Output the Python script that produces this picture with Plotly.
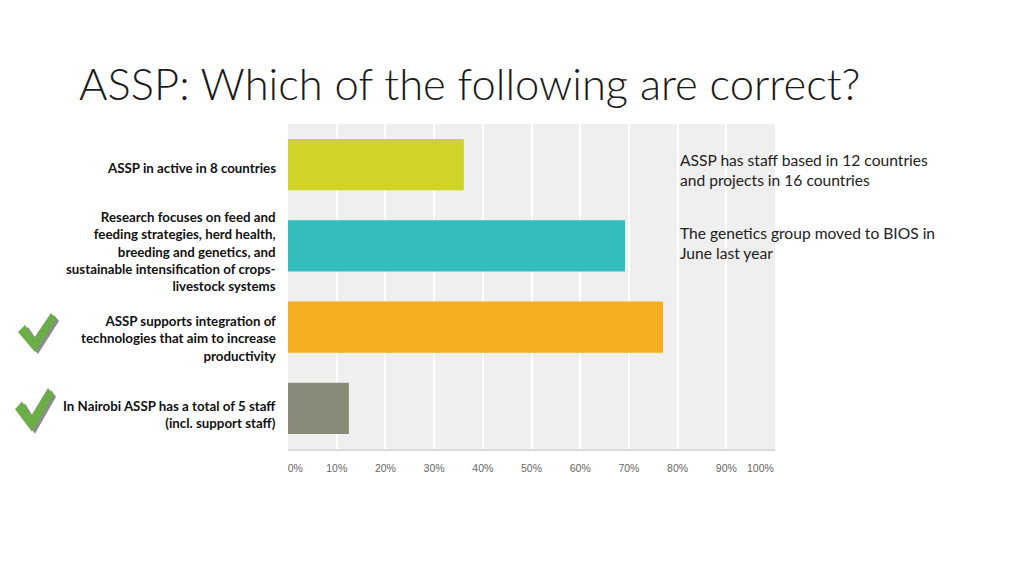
import plotly.graph_objects as go

categories = [
    "ASSP in active in 8 countries",
    "Research focuses on feed and<br>feeding strategies, herd health,<br>breeding and genetics, and<br>sustainable intensification of crops-<br>livestock systems",
    "ASSP supports integration of<br>technologies that aim to increase<br>productivity",
    "In Nairobi ASSP has a total of 5 staff<br>(incl. support staff)",
]
values = [36.1, 69.2, 77.0, 12.5]
colors = ["#cfd427", "#33bdbd", "#f5ae20", "#8a8a7a"]
tick_vals = [0, 10, 20, 30, 40, 50, 60, 70, 80, 90, 100]
tick_text = ["&nbsp;" * 5 + "0%", "10%", "20%", "30%", "40%", "50%", "60%", "70%",
             "80%", "90%", "100%" + "&nbsp;" * 10]
correct = [False, False, True, True]
label_shift = [3, 6, 11, 6]
notes = [
    "ASSP has staff based in 12 countries<br>and projects in 16 countries",
    "The genetics group moved to BIOS in<br>June last year",
]

W, H = 1024, 576
L, R, T, B = 288, 775, 124, 449


def px(x, y):
    return (x - L) / (R - L), (B - y) / (B - T)


fig = go.Figure(go.Bar(
    x=values, y=categories, orientation="h",
    marker=dict(color=colors, line=dict(width=0)),
    width=0.63, hoverinfo="x+y",
))

fig.update_layout(
    width=W, height=H,
    margin=dict(l=L, r=W - R, t=T, b=H - B, pad=0),
    paper_bgcolor="white", plot_bgcolor="#efefef",
    showlegend=False,
    font=dict(family="Lato, Open Sans, sans-serif"),
    xaxis=dict(range=[0, 100], tickvals=tick_vals, ticktext=tick_text,
               showgrid=True, gridcolor="white", gridwidth=1.5,
               showline=True, linecolor="#d9d9d9", linewidth=2,
               zeroline=False, ticks="", ticklabelstandoff=8,
               tickfont=dict(size=10.5, color="#666666", family="Arial, Liberation Sans, sans-serif")),
    yaxis=dict(categoryorder="array", categoryarray=categories, autorange="reversed",
               showgrid=False, zeroline=False, ticks="", showticklabels=False),
    bargap=0.37,
)

# category labels (right-aligned, left of the plot)
for cat, sh in zip(categories, label_shift):
    fig.add_annotation(text=cat, xref="paper", yref="y", x=0, y=cat,
                       xanchor="right", yanchor="middle", align="right",
                       xshift=-10, yshift=-sh, showarrow=False,
                       font=dict(size=13.3, color="#111111", family="Lato, sans-serif", weight="bold"))

# title
fig.add_annotation(text="ASSP: Which of the following are correct?",
                   xref="paper", yref="paper", x=px(77, 0)[0], y=px(0, 83)[1],
                   xanchor="left", yanchor="middle", showarrow=False,
                   font=dict(size=43.5, color="#1a1a1a", family="Lato, sans-serif", weight=300))

# side notes
for note, ypix in zip(notes, [170, 243]):
    xp, yp = px(678, ypix)
    fig.add_annotation(text=note, xref="paper", yref="paper", x=xp, y=yp,
                       xanchor="left", yanchor="middle", align="left", showarrow=False,
                       font=dict(size=15.6, color="#222222", family="Lato, sans-serif"))


def check_path(ox, oy, dx=0, dy=0, sx=1.0, sy=1.0):
    pts = [(0, 19), (17, 39), (38, 6), (33, 0), (16, 25), (7, 12)]
    out = ""
    for i, (a, b) in enumerate(pts):
        xp, yp = px(ox + a * sx + dx, oy + b * sy + dy)
        out += ("M" if i == 0 else "L") + f"{xp:.5f},{yp:.5f} "
    return out + "Z"


# checkmarks beside correct answers
row_centers = [164.5, 245.5, 327, 408]
check_x = [17, 17, 18, 15]
check_off = [0, 0, 14, 20]
check_sx = [1, 1, 1.0, 1.0]
check_sy = [1, 1, 1.0, 1.12]
for ok, yc, cx, co, sx, sy in zip(correct, row_centers, check_x, check_off, check_sx, check_sy):
    if ok:
        oy = yc - co
        fig.add_shape(type="path", xref="paper", yref="paper",
                      path=check_path(cx, oy, 3, 2, sx, sy),
                      fillcolor="#8c8c8c", line=dict(width=0))
        fig.add_shape(type="path", xref="paper", yref="paper",
                      path=check_path(cx, oy, 0, 0, sx, sy),
                      fillcolor="#6aae45", line=dict(width=0))

fig.write_html("out.html", config={"displayModeBar": False},
               post_script="document.body.style.margin='0px';")
